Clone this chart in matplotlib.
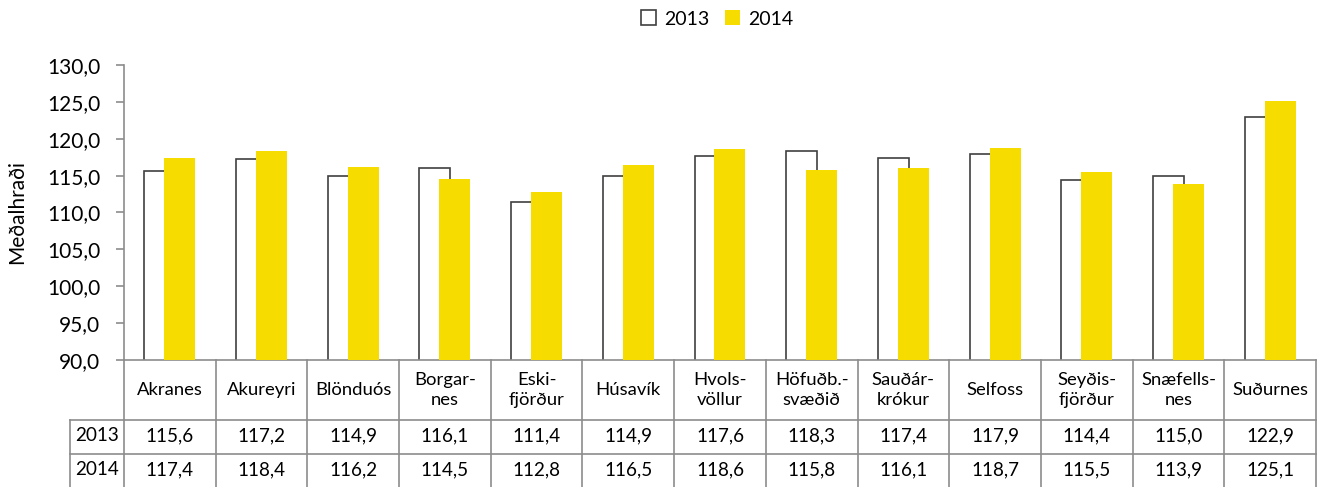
import numpy as np
import matplotlib
matplotlib.use("Agg")
import matplotlib.pyplot as plt
import matplotlib.transforms as mtransforms

plt.rcParams['font.family'] = ['Lato', 'DejaVu Sans']

# Data
places = ["Akranes", "Akureyri", "Blönduós", "Borgar-\nnes", "Eski-\nfjörður",
          "Húsavík", "Hvols-\nvöllur", "Höfuðb.-\nsvæðið", "Sauðár-\nkrókur",
          "Selfoss", "Seyðis-\nfjörður", "Snæfells-\nnes", "Suðurnes"]
speed_2013 = [115.6, 117.2, 114.9, 116.1, 111.4, 114.9, 117.6, 118.3, 117.4,
              117.9, 114.4, 115.0, 122.9]
speed_2014 = [117.4, 118.4, 116.2, 114.5, 112.8, 116.5, 118.6, 115.8, 116.1,
              118.7, 115.5, 113.9, 125.1]
years = ["2013", "2014"]

yellow = "#F7DC00"
grid_grey = "#8C8C8C"

fig = plt.figure(figsize=(13.18, 4.87), dpi=100)
ax = fig.add_axes([124 / 1318, 1 - 360 / 487, 1192 / 1318, 295 / 487])

x = np.arange(len(places))
bw = 0.338
off = 0.109
ax.bar(x - off, speed_2013, bw, color="white", edgecolor="#404040",
       linewidth=1.2, label="2013", zorder=2)
ax.bar(x + off, speed_2014, bw, color=yellow, edgecolor=yellow, linewidth=0,
       label="2014", zorder=3)

ax.set_xlim(-0.5, len(places) - 0.5)
ax.set_ylim(90, 130)
ax.set_yticks(np.arange(90, 131, 5))
ax.set_yticklabels([f"{v:.1f}".replace(".", ",") for v in np.arange(90, 131, 5)],
                   fontsize=15)
ax.set_xticks([])
ax.tick_params(axis="y", direction="out", length=6, color=grid_grey, width=1.2, pad=11)
for s in ["top", "right", "bottom"]:
    ax.spines[s].set_visible(False)
ax.spines["left"].set_color(grid_grey)
ax.spines["left"].set_linewidth(1.2)
ax.set_ylabel("Meðalhraði", fontsize=15)
ax.yaxis.set_label_coords(-0.081, 0.5)

# data table below the axes
trans = mtransforms.blended_transform_factory(ax.transData, ax.transAxes)
row_y = [0, -60 / 295, -94 / 295, -128 / 295]
label_left = -0.5 - 54 / (1192 / len(places))
right = len(places) - 0.5
lkw = dict(color=grid_grey, lw=1.2, transform=trans, clip_on=False)

ax.plot([-0.5, right], [row_y[0]] * 2, **lkw)
for yy in row_y[1:3]:
    ax.plot([label_left, right], [yy, yy], **lkw)
for xb in np.arange(-0.5, len(places)):
    ax.plot([xb, xb], [row_y[0], row_y[3]], **lkw)
ax.plot([label_left, label_left], [row_y[1], row_y[3]], **lkw)

for i, name in enumerate(places):
    ax.text(i, (row_y[0] + row_y[1]) / 2, name, ha="center", va="center",
            fontsize=13.3, transform=trans, linespacing=1.32)
    for r, vals in enumerate([speed_2013, speed_2014]):
        ax.text(i, (row_y[r + 1] + row_y[r + 2]) / 2 + 0.005,
                f"{vals[i]:.1f}".replace(".", ","), ha="center", va="center",
                fontsize=13.6, transform=trans)
for r, yr in enumerate(years):
    ax.text((label_left - 0.5) / 2, (row_y[r + 1] + row_y[r + 2]) / 2 + 0.005, yr,
            ha="center", va="center", fontsize=13.6, transform=trans)

leg = fig.legend(loc="center", bbox_to_anchor=(717 / 1318, 1 - 19 / 487), ncol=2,
                 frameon=False, fontsize=14, handlelength=0.8, handleheight=0.8,
                 handletextpad=0.4, columnspacing=0.8)

fig.savefig("out.png", dpi=100)
